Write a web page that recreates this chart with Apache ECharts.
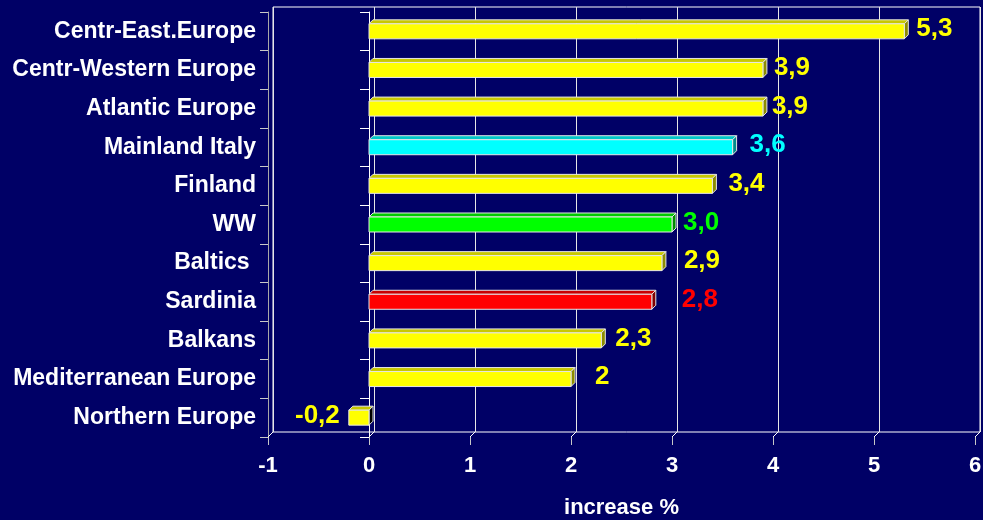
<!DOCTYPE html>
<html>
<head>
<meta charset="utf-8">
<script src="https://cdn.jsdelivr.net/npm/echarts@6/dist/echarts.min.js"></script>
<style>
  html, body { margin: 0; padding: 0; background: #000066; }
  #chart { width: 983px; height: 520px; }
</style>
</head>
<body>
<div id="chart"></div>
<script>
// Regions, ordered top to bottom
const categories = [
  'Centr-East.Europe', 'Centr-Western Europe', 'Atlantic Europe', 'Mainland Italy',
  'Finland', 'WW', 'Baltics ', 'Sardinia', 'Balkans', 'Mediterranean Europe', 'Northern Europe'
];
// Increase in %
const values = [5.3, 3.9, 3.9, 3.6, 3.4, 3.0, 2.9, 2.8, 2.3, 2, -0.2];
const valueLabels = ['5,3', '3,9', '3,9', '3,6', '3,4', '3,0', '2,9', '2,8', '2,3', '2', '-0,2'];
// Colour group of each bar
const colorKeys = ['yellow', 'yellow', 'yellow', 'cyan', 'yellow', 'green', 'yellow', 'red', 'yellow', 'yellow', 'yellow'];
// Value-axis ticks
const xTicks = [-1, 0, 1, 2, 3, 4, 5, 6];

// Styling
const palettes = {
  yellow: { front: '#ffff00', top: '#c8c800', side: '#8c8c00', label: '#ffff00' },
  cyan:   { front: '#00ffff', top: '#00c8c8', side: '#008c8c', label: '#00ffff' },
  green:  { front: '#00ff00', top: '#00c800', side: '#008c00', label: '#00ff00' },
  red:    { front: '#ff0000', top: '#c80000', side: '#800000', label: '#ff0000' }
};
const labelGap = [8, 7, 5, 13, 12, 7, 18, 26, 10, 20, 9];
const FONT = 'Arial, "Liberation Sans", sans-serif';
const DEPTH = 5;      // wall depth
const BAR_H = 15;     // front face thickness
const BAR_D = 4;      // bar depth

function renderBar(params, api) {
  const idx = api.value(0);
  const v = api.value(1);
  const a = api.coord([0, idx]);
  const b = api.coord([v, idx]);
  const xL = Math.min(a[0], b[0]);
  const xR = Math.max(a[0], b[0]);
  const yT = a[1] - BAR_H / 2;
  const yB = a[1] + BAR_H / 2;
  const pal = palettes[colorKeys[idx]];
  const sideFill = v < 0 ? '#000000' : pal.side;
  const edge = '#e6e6e6';
  const gap = labelGap[idx];
  return {
    type: 'group',
    children: [
      { type: 'polygon',
        shape: { points: [[xL, yT], [xL + BAR_D, yT - BAR_D], [xR + BAR_D, yT - BAR_D], [xR, yT]] },
        style: { fill: pal.top, stroke: edge, lineWidth: 1 } },
      { type: 'polygon',
        shape: { points: [[xR, yT], [xR + BAR_D, yT - BAR_D], [xR + BAR_D, yB - BAR_D], [xR, yB]] },
        style: { fill: sideFill, stroke: edge, lineWidth: 1 } },
      { type: 'rect',
        shape: { x: xL, y: yT, width: xR - xL, height: BAR_H },
        style: { fill: pal.front, stroke: edge, lineWidth: 1 } },
      { type: 'text',
        x: v < 0 ? xL - gap : xR + BAR_D + gap,
        y: a[1] - 2,
        style: {
          text: valueLabels[idx], fill: pal.label,
          font: 'bold 26px ' + FONT,
          align: v < 0 ? 'right' : 'left', verticalAlign: 'middle'
        } }
    ]
  };
}

// Diagonal floor edges joining the front axis to the back wall
function renderFloor(params, api) {
  const p = api.coord([api.value(0), categories.length - 1]);
  const band = api.size([0, 1])[1];
  const y = p[1] + band / 2;
  return {
    type: 'line',
    shape: { x1: p[0], y1: y, x2: p[0] + DEPTH, y2: y - DEPTH },
    style: { stroke: '#ffffff', lineWidth: 1 }
  };
}

const chart = echarts.init(document.getElementById('chart'), null, { renderer: 'canvas' });
chart.setOption({
  backgroundColor: '#000066',
  animation: false,
  grid: [
    { left: 268, right: 8, top: 12, bottom: 83, outerBoundsMode: 'none', containLabel: false },
    { left: 268 + DEPTH, right: 8 - DEPTH, top: 12 - DEPTH, bottom: 83 + DEPTH,
      outerBoundsMode: 'none', containLabel: false,
      show: true, borderColor: '#ffffff', borderWidth: 1, backgroundColor: 'transparent' }
  ],
  xAxis: [
    { type: 'value', gridIndex: 0, min: xTicks[0], max: xTicks[xTicks.length - 1], interval: 1,
      name: 'increase %', nameLocation: 'middle', nameGap: 60,
      nameTextStyle: { color: '#ffffff', fontWeight: 'bold', fontSize: 22, fontFamily: FONT },
      axisLine: { onZero: false, lineStyle: { color: '#c8c8c8', width: 1 } },
      axisTick: { show: true, length: 8, lineStyle: { color: '#c8c8c8' } },
      axisLabel: { color: '#ffffff', fontWeight: 'bold', fontSize: 22, fontFamily: FONT, margin: 18 },
      splitLine: { show: false } },
    { type: 'value', gridIndex: 1, min: xTicks[0], max: xTicks[xTicks.length - 1], interval: 1,
      axisLine: { show: false }, axisTick: { show: false }, axisLabel: { show: false },
      splitLine: { show: true, lineStyle: { color: '#e6e6e6', width: 1 } } }
  ],
  yAxis: [
    { type: 'category', gridIndex: 0, data: categories, inverse: true, position: 'left',
      axisLine: { onZero: false, lineStyle: { color: '#a8a8a8', width: 1 } },
      axisTick: { show: true, length: 8, lineStyle: { color: '#c8c8c8' } },
      axisLabel: { color: '#ffffff', fontWeight: 'bold', fontSize: 23, fontFamily: FONT, margin: 12 } },
    { type: 'category', gridIndex: 0, data: categories, inverse: true, position: 'left',
      axisLine: { onZero: true, lineStyle: { color: '#ffffff', width: 1 } },
      axisTick: { show: true, length: 9, lineStyle: { color: '#ffffff' } },
      axisLabel: { show: false } },
    { type: 'category', gridIndex: 1, data: categories, inverse: true, show: false }
  ],
  series: [
    { type: 'custom', name: 'floor', xAxisIndex: 0, yAxisIndex: 0,
      data: xTicks.map(t => [t]), encode: { x: 0 },
      renderItem: renderFloor, silent: true, z: 1 },
    { type: 'custom', name: 'increase', xAxisIndex: 0, yAxisIndex: 0,
      data: values.map((v, i) => [i, v]), encode: { y: 0, x: 1 },
      renderItem: renderBar, z: 5 }
  ]
});
</script>
</body>
</html>
